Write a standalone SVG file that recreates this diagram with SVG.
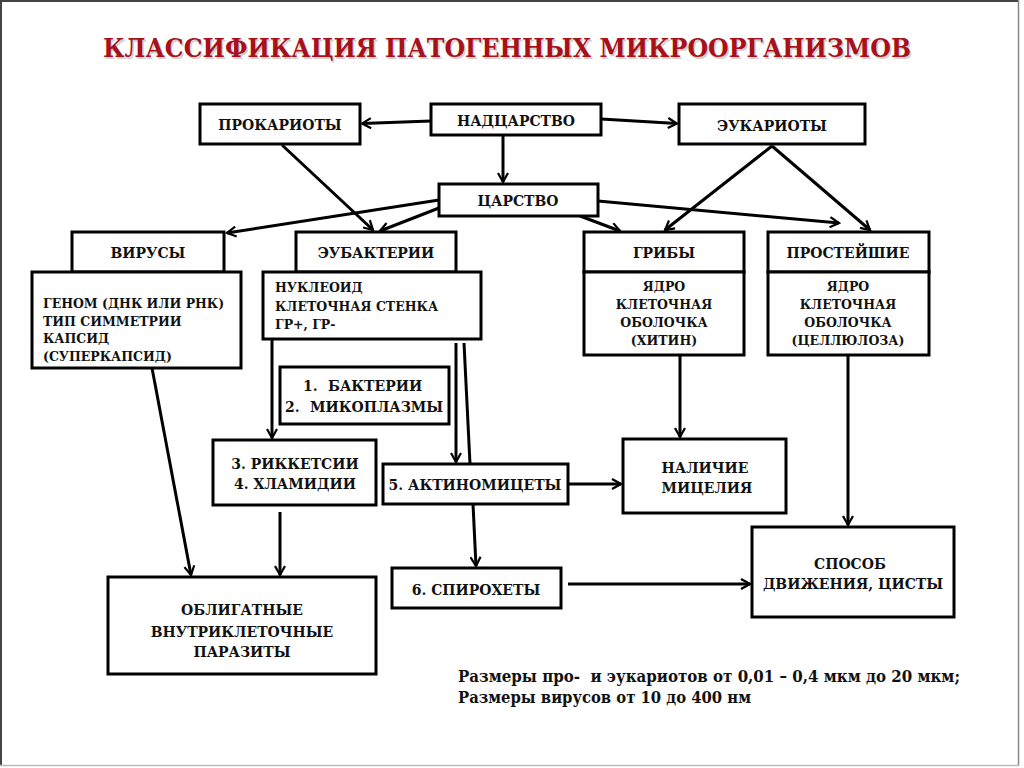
<svg xmlns="http://www.w3.org/2000/svg" width="1024" height="768" viewBox="0 0 1024 768">
<style>
.box{fill:#fff;stroke:#000;stroke-width:3}
text{font-family:'DejaVu Serif','Liberation Serif',serif;font-weight:bold;fill:#111}
.t{font-size:14px}
.s{font-size:12.5px}
.c{text-anchor:middle}
.n{font-size:16px}
.ln{fill:none;stroke:#000;stroke-width:3}
.ar{fill:none;stroke:#000;stroke-width:3;marker-end:url(#arr)}
</style>
<defs>
<marker id="arr" viewBox="0 0 12 12" refX="10" refY="6" markerWidth="4" markerHeight="4" orient="auto" markerUnits="strokeWidth">
<path d="M1,1 L10,6 L1,11" fill="none" stroke="#000" stroke-width="2.2"/>
</marker>
</defs>
<rect width="1024" height="768" fill="#fff"/>
<g id="frame">
<line x1="1" y1="0" x2="1" y2="766" stroke="#444" stroke-width="2"/>
<line x1="0" y1="1" x2="1019" y2="1" stroke="#444" stroke-width="2"/>
<line x1="1018.5" y1="0" x2="1018.5" y2="766" stroke="#888" stroke-width="1.5"/>
<line x1="0" y1="765.5" x2="1019" y2="765.5" stroke="#bbb" stroke-width="1.5"/>
</g>
<g id="title">
<text x="104.5" y="58.5" style="font-size:26px;fill:#d0d0d0" textLength="808" lengthAdjust="spacingAndGlyphs">КЛАССИФИКАЦИЯ ПАТОГЕННЫХ МИКРООРГАНИЗМОВ</text>
<text x="103" y="57" style="font-size:26px;fill:#A8101A" textLength="808" lengthAdjust="spacingAndGlyphs">КЛАССИФИКАЦИЯ ПАТОГЕННЫХ МИКРООРГАНИЗМОВ</text>
</g>

<g id="connectors">
<line class="ar" x1="431" y1="121" x2="362" y2="123.5"/>
<line class="ar" x1="601" y1="119" x2="677" y2="123.5"/>
<line class="ar" x1="503" y1="135" x2="503" y2="182"/>
<line class="ar" x1="282" y1="145" x2="373" y2="230"/>
<line class="ar" x1="439" y1="200" x2="227" y2="233"/>
<line class="ar" x1="439" y1="208" x2="380" y2="231"/>
<line class="ar" x1="580" y1="216" x2="620" y2="231"/>
<line class="ar" x1="598" y1="201" x2="839" y2="223"/>
<line class="ar" x1="772" y1="146" x2="665" y2="230"/>
<line class="ar" x1="772" y1="146" x2="870" y2="230"/>
<line class="ar" x1="152" y1="368" x2="191" y2="575"/>
<line class="ar" x1="272" y1="339" x2="272" y2="438"/>
<line class="ar" x1="280" y1="512" x2="280" y2="575"/>
<line class="ar" x1="456" y1="343" x2="456" y2="462"/>
<line class="ln" x1="464" y1="343" x2="470" y2="464"/>
<line class="ar" x1="568" y1="484" x2="621" y2="484"/>
<line class="ar" x1="473" y1="504" x2="476" y2="566"/>
<line class="ar" x1="568" y1="584" x2="750" y2="584"/>
<line class="ar" x1="680" y1="355" x2="680" y2="437"/>
<line class="ar" x1="848" y1="355" x2="848" y2="525"/>
</g>

<g id="prokarioty"><rect class="box" x="200" y="104" width="160" height="40"/><text class="t c" x="280" y="130">ПРОКАРИОТЫ</text></g>
<g id="nadcarstvo"><rect class="box" x="431" y="104" width="170" height="31"/><text class="t c" x="516" y="126">НАДЦАРСТВО</text></g>
<g id="eukarioty"><rect class="box" x="679" y="104" width="186" height="40"/><text class="t c" x="772" y="131">ЭУКАРИОТЫ</text></g>
<g id="carstvo"><rect class="box" x="439" y="184" width="159" height="32"/><text class="t c" x="518" y="206">ЦАРСТВО</text></g>

<g id="virusy"><rect class="box" x="72" y="232" width="152" height="40"/><text class="t c" x="148" y="258">ВИРУСЫ</text></g>
<g id="virusy-info"><rect class="box" x="32" y="272" width="209" height="96"/>
<text class="s" x="43" y="308">ГЕНОМ (ДНК ИЛИ РНК)</text>
<text class="s" x="43" y="326">ТИП СИММЕТРИИ</text>
<text class="s" x="43" y="343">КАПСИД</text>
<text class="s" x="43" y="361">(СУПЕРКАПСИД)</text></g>

<g id="eubakterii"><rect class="box" x="296" y="232" width="160" height="40"/><text class="t c" x="376" y="258">ЭУБАКТЕРИИ</text></g>
<g id="eubakterii-info"><rect class="box" x="263" y="272" width="218" height="67"/>
<text class="s" x="275" y="292">НУКЛЕОИД</text>
<text class="s" x="275" y="311">КЛЕТОЧНАЯ СТЕНКА</text>
<text class="s" x="275" y="329">ГР+, ГР-</text></g>

<g id="griby"><rect class="box" x="584" y="232" width="160" height="40"/><text class="t c" x="664" y="258">ГРИБЫ</text></g>
<g id="griby-info"><rect class="box" x="584" y="272" width="160" height="83"/>
<text class="s c" x="664" y="291">ЯДРО</text>
<text class="s c" x="664" y="309">КЛЕТОЧНАЯ</text>
<text class="s c" x="664" y="327">ОБОЛОЧКА</text>
<text class="s c" x="664" y="345">(ХИТИН)</text></g>

<g id="prosteyshie"><rect class="box" x="768" y="232" width="161" height="40"/><text class="t c" x="848" y="258">ПРОСТЕЙШИЕ</text></g>
<g id="prosteyshie-info"><rect class="box" x="768" y="272" width="161" height="83"/>
<text class="s c" x="848" y="291">ЯДРО</text>
<text class="s c" x="848" y="309">КЛЕТОЧНАЯ</text>
<text class="s c" x="848" y="327">ОБОЛОЧКА</text>
<text class="s c" x="848" y="345">(ЦЕЛЛЮЛОЗА)</text></g>

<g id="bakterii"><rect class="box" x="280" y="367" width="169" height="57"/>
<text class="t" x="303" y="391">1.</text><text class="t" x="328" y="391">БАКТЕРИИ</text>
<text class="t" x="285" y="412">2.</text><text class="t" x="310" y="412">МИКОПЛАЗМЫ</text></g>

<g id="rikketsii"><rect class="box" x="213" y="440" width="163" height="65"/>
<text class="t c" x="295" y="469">3. РИККЕТСИИ</text>
<text class="t c" x="295" y="489">4. ХЛАМИДИИ</text></g>

<g id="aktinomicety"><rect class="box" x="383" y="464" width="185" height="40"/><text class="t c" x="475" y="490">5. АКТИНОМИЦЕТЫ</text></g>
<g id="spirohety"><rect class="box" x="392" y="568" width="169" height="40"/><text class="t c" x="476" y="595">6. СПИРОХЕТЫ</text></g>

<g id="obligatnye"><rect class="box" x="108" y="577" width="268" height="97"/>
<text class="t c" x="242" y="615">ОБЛИГАТНЫЕ</text>
<text class="t c" x="242" y="637">ВНУТРИКЛЕТОЧНЫЕ</text>
<text class="t c" x="242" y="657">ПАРАЗИТЫ</text></g>

<g id="micelij"><rect class="box" x="623" y="439" width="163" height="74"/>
<text class="t c" x="705" y="473">НАЛИЧИЕ</text>
<text class="t c" x="707" y="493">МИЦЕЛИЯ</text></g>

<g id="sposob"><rect class="box" x="752" y="527" width="202" height="90"/>
<text class="t c" x="850" y="569">СПОСОБ</text>
<text class="t c" x="853" y="589">ДВИЖЕНИЯ, ЦИСТЫ</text></g>

<g id="note">
<text class="n" x="458" y="682" textLength="502" lengthAdjust="spacingAndGlyphs" xml:space="preserve">Размеры про-  и эукариотов от 0,01 – 0,4 мкм до 20 мкм;</text>
<text class="n" x="458" y="703" textLength="293" lengthAdjust="spacingAndGlyphs">Размеры вирусов от 10 до 400 нм</text>
</g>
</svg>
